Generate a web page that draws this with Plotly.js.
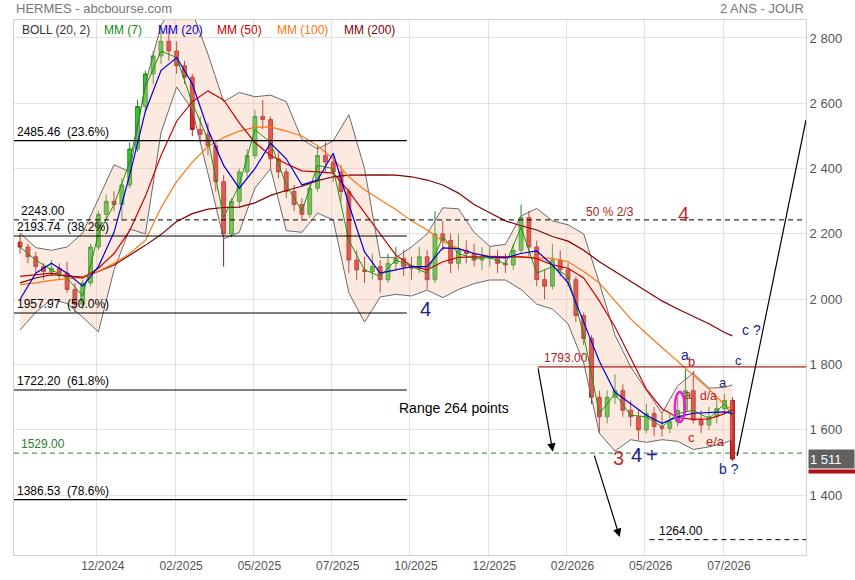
<!DOCTYPE html>
<html>
<head>
<meta charset="utf-8">
<script src="https://cdn.plot.ly/plotly-3.0.1.min.js"></script>
<style>html,body{margin:0;padding:0;background:#fff;}#chart{width:855px;height:580px;}</style>
</head>
<body>
<div id="chart"></div>
<script>
// ---- candle data (weekly samples), x = trading-day index ----
const open = [2175,2160,2130,2100,2085,2095,2080,2030,1985,2050,
  2160,2260,2300,2290,2350,2460,2590,2690,2745,2790,
  2760,2715,2680,2520,2505,2470,2360,2200,2300,2390,
  2440,2560,2550,2430,2390,2330,2290,2260,2340,2440,
  2420,2390,2330,2120,2090,2085,2100,2060,2110,2125,
  2100,2095,2130,2060,2200,2180,2110,2150,2140,2120,
  2125,2130,2110,2105,2150,2250,2160,2060,2040,2120,
  2090,2060,1950,1880,1700,1640,1700,1720,1660,1640,
  1600,1650,1610,1605,1625,1660,1720,1630,1615,1640,
  1665,1690];
const high = [2200,2170,2145,2110,2120,2110,2115,2050,2060,2170,
  2270,2320,2330,2370,2480,2610,2700,2760,2840,2830,
  2790,2730,2690,2560,2540,2480,2380,2310,2400,2460,
  2580,2610,2560,2450,2400,2350,2310,2360,2470,2480,
  2440,2410,2340,2150,2130,2140,2120,2140,2160,2150,
  2130,2160,2150,2270,2240,2200,2200,2180,2170,2160,
  2160,2150,2140,2170,2290,2270,2180,2090,2170,2150,
  2110,2070,1960,1890,1720,1720,1770,1740,1690,1660,
  1680,1670,1650,1650,1700,1785,1780,1660,1670,1700,
  1710,1700];
const low = [2140,2110,2080,2060,2070,2060,2020,1960,1970,2040,
  2150,2240,2270,2240,2340,2450,2570,2660,2720,2730,
  2690,2660,2500,2480,2440,2330,2100,2190,2280,2370,
  2430,2520,2400,2370,2310,2270,2240,2250,2330,2390,
  2360,2300,2080,2060,2050,2060,2020,2050,2090,2070,
  2060,2080,2030,2050,2150,2080,2090,2110,2100,2090,
  2100,2080,2080,2090,2140,2130,2040,2000,2030,2070,
  2040,1930,1860,1680,1590,1620,1680,1640,1610,1570,
  1590,1580,1580,1590,1610,1650,1620,1590,1600,1620,
  1650,1505];
const close = [2160,2130,2100,2085,2095,2080,2030,1985,2050,2160,
  2260,2300,2290,2350,2460,2590,2690,2745,2790,2760,
  2715,2680,2520,2505,2470,2360,2200,2300,2390,2440,
  2560,2550,2430,2390,2330,2290,2260,2340,2440,2420,
  2390,2330,2120,2090,2085,2100,2060,2110,2125,2100,
  2095,2130,2060,2200,2180,2110,2150,2140,2120,2125,
  2130,2110,2105,2150,2250,2160,2060,2040,2120,2090,
  2060,1950,1880,1700,1640,1700,1720,1660,1640,1600,
  1650,1610,1605,1625,1660,1720,1630,1615,1640,1665,
  1690,1511];

// ---- indicator lines, sampled every 10 trading days ----
const lineDays = [2,12,22,32,42,52,62,72,82,92,102,112,122,132,142,152,162,172,182,192,
  202,212,222,232,242,252,262,272,282,292,302,312,322,332,342,352,362,372,382,392,
  402,412,422,432,442,452,457];
const mm7 = [2160,2120,2090,2065,2010,2200,2290,2420,2650,2760,2740,2600,2490,2250,2350,2520,2480,2350,2270,2410,
  2400,2180,2090,2070,2120,2100,2080,2190,2140,2125,2128,2108,2220,2080,2100,2070,1890,1650,1710,1645,
  1640,1610,1650,1660,1635,1680,1640];
const mm20 = [2000,2080,2110,2080,2040,2100,2205,2380,2575,2700,2740,2660,2520,2410,2340,2400,2478,2430,2350,2365,
  2447,2290,2145,2080,2090,2100,2100,2157,2155,2140,2130,2127,2140,2148,2105,2050,1930,1810,1715,1680,
  1645,1620,1640,1651,1652,1655,1650];
const mm50 = [2070,2075,2080,2072,2065,2095,2140,2210,2315,2440,2545,2605,2638,2610,2540,2480,2440,2415,2393,2390,
  2386,2330,2265,2200,2135,2102,2090,2115,2128,2130,2130,2130,2130,2125,2105,2095,2065,1995,1915,1820,
  1725,1665,1638,1632,1634,1650,1662];
const mm100 = [2045,2050,2058,2062,2068,2085,2110,2140,2180,2280,2360,2420,2468,2495,2515,2526,2528,2515,2500,2470,
  2430,2375,2335,2305,2275,2240,2212,2178,2155,2140,2132,2130,2130,2127,2125,2115,2085,2050,1995,1940,
  1895,1852,1812,1768,1725,1677,1660];
const mm200 = [2050,2065,2075,2072,2068,2085,2105,2135,2165,2198,2238,2262,2276,2281,2282,2295,2318,2333,2346,2363,
  2375,2380,2381,2381,2380,2375,2365,2350,2325,2290,2265,2240,2225,2212,2192,2178,2150,2115,2085,2055,
  2025,1995,1970,1948,1925,1898,1888];
const bbUp = [2203,2158,2150,2160,2203,2310,2412,2390,2660,2838,2920,2880,2750,2605,2633,2620,2625,2605,2490,2460,
  2485,2565,2400,2128,2128,2160,2200,2280,2277,2205,2162,2168,2255,2278,2240,2228,2200,2050,1890,1793,
  1720,1651,1735,1774,1728,1730,1738];
const bbLo = [1906,1960,2000,1987,1945,1900,2090,2215,2200,2510,2650,2580,2385,2185,2205,2340,2400,2210,2205,2264,
  2243,2020,1930,2007,2015,2010,2028,2005,2030,2048,2059,2059,2030,1985,1970,1925,1805,1590,1535,1570,
  1562,1570,1565,1540,1548,1560,1570];

// ---- axes ----
const xTickDays = [51,101,151,201,251,301,351,401,451];
const xTickLabels = ['12/2024','02/2025','05/2025','07/2025','10/2025','12/2025','02/2026','05/2026','07/2026'];
const yTickVals = [1400,1600,1800,2000,2200,2400,2600,2800];
const yTickLabels = ['1 400','1 600','1 800','2 000','2 200','2 400','2 600','2 800'];

// ---- levels ----
const fibLevels = [2485.46,2193.74,1957.97,1722.20,1386.53];
const fibPct = ['23.6%','38.2%','50.0%','61.8%','78.6%'];
const lastPrice = 1511;

const candleDays = open.map((_, i) => 2 + 5 * i);
const FONT = 'Liberation Sans, Arial, sans-serif';
const NAVY = '#1c1c8c', DRED = '#b22222';

const traces = [
  {x: lineDays, y: bbUp, type: 'scatter', mode: 'lines', line: {color: '#6a6a6a', width: 1}, hoverinfo: 'skip'},
  {x: lineDays, y: bbLo, type: 'scatter', mode: 'lines', line: {color: '#6a6a6a', width: 1}, fill: 'tonexty',
   fillcolor: 'rgba(247,190,160,0.33)', hoverinfo: 'skip'},
  {x: candleDays, open: open, high: high, low: low, close: close, type: 'candlestick', whiskerwidth: 0,
   increasing: {line: {color: '#1f8a1f', width: 1}, fillcolor: '#35c835'},
   decreasing: {line: {color: '#a51616', width: 1}, fillcolor: '#d42a2a'}},
  {x: lineDays, y: mm200, type: 'scatter', mode: 'lines', line: {color: '#800000', width: 1.2}},
  {x: lineDays, y: mm100, type: 'scatter', mode: 'lines', line: {color: '#ff7410', width: 1.2}},
  {x: lineDays, y: mm50, type: 'scatter', mode: 'lines', line: {color: '#cc0000', width: 1.2}},
  {x: lineDays, y: mm7, type: 'scatter', mode: 'lines', line: {color: '#119911', width: 1}},
  {x: lineDays, y: mm20, type: 'scatter', mode: 'lines', line: {color: '#0000dd', width: 1.2}}
];

const XMIN = -1.9, XMAX = 504;
const shapes = [];
const annotations = [];

fibLevels.forEach((v, i) => {
  shapes.push({type: 'line', xref: 'x', yref: 'y', x0: XMIN, x1: 249, y0: v, y1: v, line: {color: '#000', width: 1.2}});
  annotations.push({xref: 'x', yref: 'y', x: -1.5, y: v, xanchor: 'left', yanchor: 'bottom', showarrow: false, yshift: 0,
    text: v.toFixed(2) + '\u00a0\u00a0(' + fibPct[i] + ')', font: {family: FONT, size: 12, color: '#000'}});
});
// dashed and solid level lines
shapes.push({type: 'line', xref: 'x', yref: 'y', x0: XMIN, x1: XMAX, y0: 2243, y1: 2243, line: {color: '#000', width: 1, dash: '5px,4px'}});
shapes.push({type: 'line', xref: 'x', yref: 'y', x0: XMIN, x1: XMAX, y0: 1529, y1: 1529, line: {color: '#2e7d32', width: 1, dash: '5px,4px'}});
shapes.push({type: 'line', xref: 'x', yref: 'y', x0: 404, x1: XMAX, y0: 1264, y1: 1264, line: {color: '#000', width: 1, dash: '5px,4px'}});
shapes.push({type: 'line', xref: 'x', yref: 'y', x0: 332.7, x1: XMAX, y0: 1793, y1: 1793, line: {color: '#a52020', width: 1.2}});
// projection line
shapes.push({type: 'line', xref: 'x', yref: 'y', x0: 460, x1: 504, y0: 1520, y1: 2549, line: {color: '#000', width: 1.2}});
// magenta ellipse
shapes.push({type: 'circle', xref: 'x', yref: 'y', x0: 420.2, x1: 426.6, y0: 1624, y1: 1716, line: {color: '#e020e0', width: 2.5}});

const lvl = (x, y, t, c) => annotations.push({xref: 'x', yref: 'y', x: x, y: y, xanchor: 'left', yanchor: 'bottom', showarrow: false,
  text: t, font: {family: FONT, size: 12, color: c}});
lvl(1.5, 2243, '2243.00', '#000');
lvl(1.5, 1529, '1529.00', '#2e7d32');
lvl(409, 1264, '1264.00', '#000');
lvl(335.5, 1793, '1793.00', DRED);

const txt = (x, y, t, c, s) => annotations.push({xref: 'x', yref: 'y', x: x, y: y, xanchor: 'center', yanchor: 'middle', showarrow: false,
  text: t, font: {family: FONT, size: s, color: c}});
txt(379, 2268, '50 % 2/3', DRED, 12);
txt(426, 2262, '4', '#c0302b', 20);
txt(261, 1970, '4', NAVY, 20);
txt(384.4, 1515, '3', '#c0302b', 20);
txt(396, 1522, '4', NAVY, 20);
txt(405.5, 1522, '+', NAVY, 20);
txt(426.6, 1829, 'a', NAVY, 14);
txt(430.6, 1810, 'b', DRED, 13);
txt(469.5, 1906, 'c ?', NAVY, 14);
txt(461, 1812, 'c', NAVY, 13);
txt(451, 1745, 'a', NAVY, 13);
txt(441.5, 1703, 'd/a', DRED, 12);
txt(428.8, 1707, 'a', DRED, 13);
txt(431, 1578, 'c', DRED, 13);
txt(446.4, 1566, 'e/a', DRED, 13);
txt(455, 1480, 'b ?', NAVY, 14);
txt(279, 1667, 'Range 264 points', '#000', 14);

// arrows
annotations.push({xref: 'x', yref: 'y', axref: 'x', ayref: 'y', x: 342.3, y: 1533, ax: 332.7, ay: 1793, text: '',
  showarrow: true, arrowhead: 2, arrowsize: 1.4, arrowwidth: 1.2, arrowcolor: '#000'});
annotations.push({xref: 'x', yref: 'y', axref: 'x', ayref: 'y', x: 385, y: 1272, ax: 368.5, ay: 1526, text: '',
  showarrow: true, arrowhead: 2, arrowsize: 1.4, arrowwidth: 1.2, arrowcolor: '#000'});

// header & legend
annotations.push({xref: 'paper', yref: 'paper', x: 0, y: 1.021, xanchor: 'left', yanchor: 'middle', showarrow: false,
  text: 'HERMES - abcbourse.com', font: {family: FONT, size: 13, color: '#777'}});
annotations.push({xref: 'paper', yref: 'paper', x: 1, y: 1.021, xanchor: 'right', yanchor: 'middle', showarrow: false,
  text: '2 ANS - JOUR', font: {family: FONT, size: 13, color: '#777'}});
const legendItems = [['BOLL (20, 2)', '#333', 0.0076], ['MM (7)', '#118811', 0.111], ['MM (20)', '#0000dd', 0.179],
  ['MM (50)', '#cc0000', 0.254], ['MM (100)', '#ff7410', 0.3295], ['MM (200)', '#800000', 0.414]];
legendItems.forEach(([t, c, x]) => annotations.push({xref: 'paper', yref: 'paper', x: x, y: 0.9813, xanchor: 'left', yanchor: 'middle',
  showarrow: false, text: t, font: {family: FONT, size: 12, color: c}}));

// last price label and red marker bar beneath it
annotations.push({xref: 'paper', yref: 'y', x: 1.003, y: lastPrice, xanchor: 'left', yanchor: 'middle', showarrow: false,
  text: '1 511', bgcolor: '#606060', font: {family: FONT, size: 13, color: '#fff'}, width: 43, height: 16, align: 'left', borderpad: 1});
annotations.push({xref: 'paper', yref: 'y', x: 1.003, y: lastPrice, yshift: -10, xanchor: 'left', yanchor: 'top', showarrow: false,
  text: ' ', bgcolor: '#b01010', font: {family: FONT, size: 2, color: '#b01010'}, width: 47, height: 3, borderpad: 0});

const layout = {
  width: 855, height: 580,
  margin: {l: 14, r: 49, t: 20, b: 25},
  paper_bgcolor: '#fff', plot_bgcolor: '#fff',
  showlegend: false,
  font: {family: FONT},
  xaxis: {range: [XMIN, XMAX], tickvals: xTickDays, ticktext: xTickLabels, showgrid: true, gridcolor: '#e2e2e2',
    showline: true, linecolor: '#d0d0d0', mirror: true, ticks: '', zeroline: false, ticklabelshift: 6,
    tickfont: {family: FONT, size: 12, color: '#555'}, rangeslider: {visible: false}, fixedrange: true},
  yaxis: {range: [1217, 2855], side: 'right', tickvals: yTickVals, ticktext: yTickLabels, showgrid: true, gridcolor: '#e2e2e2',
    showline: true, linecolor: '#d0d0d0', mirror: true, ticks: '', zeroline: false,
    tickfont: {family: FONT, size: 13, color: '#555'}, fixedrange: true},
  shapes: shapes,
  annotations: annotations
};

Plotly.newPlot('chart', traces, layout, {staticPlot: true, displayModeBar: false});
</script>
</body>
</html>
